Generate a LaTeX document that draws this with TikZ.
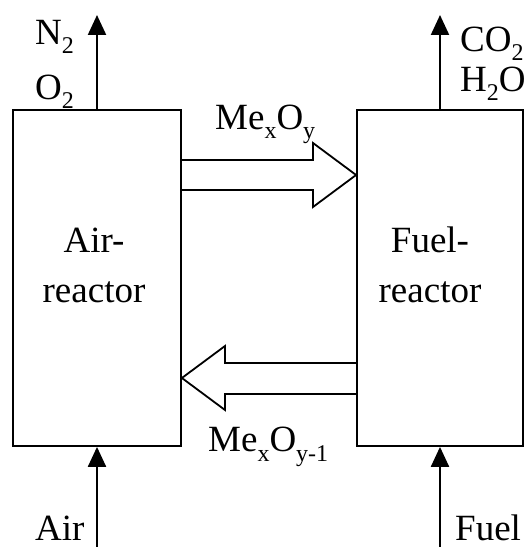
\documentclass[tikz,border=0pt]{standalone}
\usepackage{fontspec}
\setmainfont{Liberation Serif}
\usetikzlibrary{positioning, arrows.meta, calc}

\newcommand{\lowidx}[1]{\raisebox{-9pt}{\fontsize{24}{24}\selectfont #1}}

\tikzset{
    reactorbox/.style={rectangle, draw, line width=1.8pt, inner sep=0pt},
    flow/.style={line width=2.2pt, -{Triangle[length=20pt, width=18pt]}},
    fat/.style={line width=1.8pt, line join=miter},
    gas/.style={anchor=base west, inner sep=0pt}
}

\begin{document}
\begin{tikzpicture}[x=1pt, y=1pt, font=\fontsize{37}{50}\selectfont]
    \useasboundingbox (0,0) rectangle (525,547);

    % reactors
    \node (air) [reactorbox, minimum width=168pt, minimum height=336pt] at (97,269) {};
    \node (fuel) [reactorbox, minimum width=166pt, minimum height=336pt] at (440,269) {};
    \node (airname) [align=center] at ($(air.center)+(-3,13)$) {Air-\\reactor};
    \node (fuelname) [align=center] at ($(fuel.center)+(-10,13)$) {Fuel-\\reactor};

    % gas streams
    \coordinate (airout) at (air.north |- 0,532);
    \coordinate (fuelout) at (fuel.north |- 0,532);
    \coordinate (airin) at (air.south |- 0,0);
    \coordinate (fuelin) at (fuel.south |- 0,0);
    \draw[flow] (air.north) -- (airout);
    \draw[flow] (fuel.north) -- (fuelout);
    \draw[flow] (airin) -- (air.south);
    \draw[flow] (fuelin) -- (fuel.south);

    \node (n2) [gas] at (35,502) {N\lowidx{2}};
    \node (o2) [gas] at (35,447) {O\lowidx{2}};
    \node (co2) [gas] at (460,495) {CO\lowidx{2}};
    \node (h2o) [gas] at (460,455) {H\lowidx{2}O};
    \node (airtxt) [gas] at (35,6) {Air};
    \node (fueltxt) [gas] at (455,6) {Fuel};

    % oxygen carrier loop
    \draw[fat] (air.east |- 0,387) -- (313,387) -- (313,404) -- (fuel.west |- 0,372)
        -- (313,340) -- (313,357) -- (air.east |- 0,357);
    \draw[fat] (fuel.west |- 0,184) -- (225,184) -- (225,201) -- (air.east |- 0,169)
        -- (225,137) -- (225,153) -- (fuel.west |- 0,153);

    \node (oxtop) [gas] at (215,417) {Me\lowidx{x}O\lowidx{y}};
    \node (oxbot) [gas] at (208,95) {Me\lowidx{x}O\lowidx{y-1}};
\end{tikzpicture}
\end{document}
